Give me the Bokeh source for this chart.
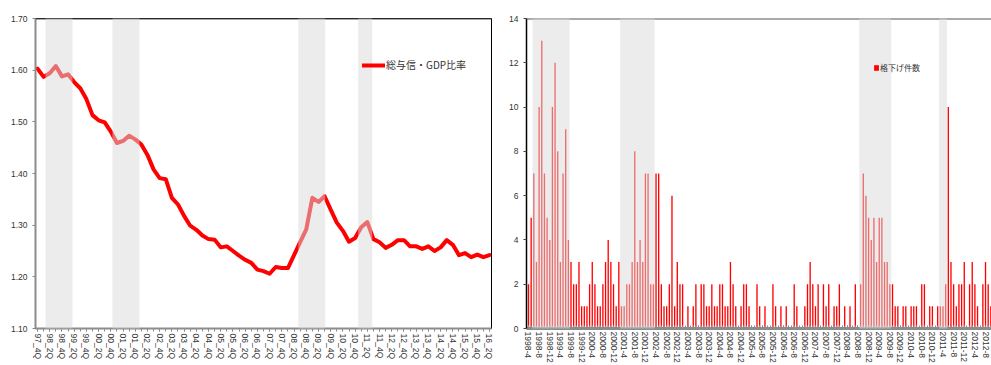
from bokeh.plotting import figure
from bokeh.models import FixedTicker, Legend, LegendItem, Span, NumeralTickFormatter
from bokeh.layouts import row
from bokeh.embed import file_html
from bokeh.resources import INLINE

# ---------------- left chart data (quarterly, 97_4Q .. 16_2Q) ----------------
quarters = []
for i in range(75):
    t = 1997 * 4 + 3 + i
    quarters.append(f"{(t // 4) % 100:02d}_{t % 4 + 1}Q")

ratio = [1.603, 1.587, 1.594, 1.608, 1.588, 1.592, 1.577, 1.565, 1.544, 1.513,
         1.503, 1.499, 1.481, 1.459, 1.463, 1.473, 1.466, 1.456, 1.436, 1.408,
         1.391, 1.389, 1.353, 1.340, 1.318, 1.299, 1.291, 1.280, 1.273, 1.272,
         1.257, 1.259, 1.250, 1.241, 1.233, 1.227, 1.214, 1.211, 1.206, 1.219,
         1.217, 1.217, 1.242, 1.267, 1.292, 1.353, 1.345, 1.356, 1.330, 1.305,
         1.289, 1.268, 1.275, 1.296, 1.306, 1.273, 1.267, 1.256, 1.262, 1.271,
         1.271, 1.259, 1.259, 1.254, 1.259, 1.250, 1.257, 1.271, 1.262, 1.242,
         1.246, 1.238, 1.243, 1.238, 1.242]
ratio_label = "総与信・GDP比率"
band_q_start = [1.31, 12.27, 42.7, 52.5]
band_q_end = [5.73, 16.7, 47.1, 54.8]
y_ticks_left = [1.10, 1.20, 1.30, 1.40, 1.50, 1.60, 1.70]

# ---------------- right chart data (monthly, 1998-4 .. 2012-10) ----------------
months = []
for k in range(175):
    months.append(f"{1998 + (3 + k) // 12}-{(3 + k) % 12 + 1}")

downgrades = [2, 5, 7, 3, 10, 13, 7, 5, 4, 10, 12, 8, 3, 7, 9, 4, 3, 2, 2, 3,
              1, 1, 1, 2, 3, 2, 1, 1, 2, 3, 4, 3, 2, 1, 3, 1, 1, 2, 2, 3,
              8, 3, 4, 3, 7, 7, 2, 2, 7, 7, 2, 1, 1, 2, 6, 1, 3, 2, 2, 0,
              1, 0, 1, 2, 0, 2, 2, 1, 1, 2, 1, 1, 2, 2, 1, 1, 3, 2, 1, 0,
              1, 2, 2, 1, 0, 0, 2, 1, 0, 1, 0, 0, 2, 1, 0, 1, 0, 1, 0, 0,
              2, 1, 0, 0, 1, 2, 3, 2, 1, 2, 0, 2, 1, 2, 0, 1, 1, 2, 0, 1,
              0, 1, 0, 2, 0, 2, 7, 6, 5, 4, 5, 3, 5, 5, 3, 3, 2, 2, 1, 1,
              0, 1, 1, 0, 1, 1, 1, 0, 2, 2, 0, 1, 1, 0, 1, 1, 1, 2, 10, 3,
              2, 1, 2, 2, 3, 0, 2, 3, 2, 1, 0, 2, 3, 2, 1]
down_label = "格下げ件数"
band_m_start = [1.5, 34.5, 124.5, 154.5]
band_m_end = [15.5, 47.5, 136.5, 157.5]
y_ticks_right = [0, 2, 4, 6, 8, 10, 12, 14]

TICK_FONT = "Liberation Sans"
JP_FONT = "Noto Sans CJK JP"
AX_GRAY = "#8c8c8c"
BAND = "#d9d9d9"

# ---------------- left figure ----------------
p1 = figure(width=497, height=365, x_range=(-0.33, 74.33), y_range=(1.10, 1.70),
            output_backend="svg", toolbar_location=None,
            min_border_left=35, min_border_right=6, min_border_top=17, min_border_bottom=33)
p1.xgrid.visible = False
p1.ygrid.visible = False
p1.outline_line_color = "black"
p1.outline_line_width = 1

xq = list(range(len(ratio)))
ln = p1.line(xq, ratio, line_color="#ff0000", line_width=4, line_join="round", line_cap="round")
p1.add_layout(Span(location=1.70, dimension="width", line_color="#555555", line_width=2))
p1.quad(left=band_q_start, right=band_q_end, bottom=1.10, top=1.70,
        fill_color=BAND, fill_alpha=0.5, line_color=None, level="overlay")

p1.xaxis.ticker = FixedTicker(ticks=list(range(0, 75, 2)), minor_ticks=list(range(75)))
p1.xaxis.major_label_overrides = {i: quarters[i] for i in range(0, 75, 2)}
p1.xaxis.major_label_orientation = "vertical"
p1.yaxis.ticker = FixedTicker(ticks=y_ticks_left, minor_ticks=[])
p1.yaxis.formatter = NumeralTickFormatter(format="0.00")
for ax in (p1.xaxis, p1.yaxis):
    ax.axis_line_color = AX_GRAY
    ax.axis_line_width = 2
    ax.major_tick_line_color = AX_GRAY
    ax.minor_tick_line_color = AX_GRAY
    ax.major_tick_out = 3
    ax.major_tick_in = 0
    ax.minor_tick_out = 3
    ax.minor_tick_in = 0
    ax.major_label_text_font = TICK_FONT
    ax.major_label_text_font_size = "8.5px"
    ax.major_label_text_color = "#333333"
p1.xaxis.major_label_standoff = 2
p1.yaxis.major_label_standoff = 5

leg1 = Legend(items=[LegendItem(label=ratio_label, renderers=[ln])], location=(327, 256),
              orientation="vertical", padding=0, margin=0, spacing=0,
              glyph_width=23, glyph_height=12, label_height=12, label_standoff=1,
              label_text_font=JP_FONT, label_text_font_size="10px", label_text_color="#333333",
              background_fill_alpha=0, border_line_alpha=0)
p1.add_layout(leg1)

# ---------------- right figure ----------------
p2 = figure(width=494, height=365, x_range=(-0.75, 174.25), y_range=(0, 14),
            output_backend="svg", toolbar_location=None,
            min_border_left=29, min_border_right=0, min_border_top=18, min_border_bottom=37)
p2.xgrid.visible = False
p2.ygrid.visible = False
p2.outline_line_color = None

xm = list(range(len(downgrades)))
bars = p2.vbar(x=xm, top=downgrades, width=0.5, fill_color="#ff0000", line_color=None)
p2.add_layout(Span(location=14, dimension="width", line_color="#555555", line_width=2))
p2.quad(left=band_m_start, right=band_m_end, bottom=0, top=14,
        fill_color=BAND, fill_alpha=0.5, line_color=None, level="overlay")

p2.xaxis.ticker = FixedTicker(ticks=list(range(0, 175, 4)), minor_ticks=list(range(175)))
p2.xaxis.major_label_overrides = {k: months[k] for k in range(0, 175, 4)}
p2.xaxis.major_label_orientation = "vertical"
p2.yaxis.ticker = FixedTicker(ticks=y_ticks_right, minor_ticks=[])
for ax in (p2.xaxis, p2.yaxis):
    ax.major_label_text_font = TICK_FONT
    ax.major_label_text_font_size = "8.5px"
    ax.major_label_text_color = "#333333"
p2.xaxis.axis_line_color = AX_GRAY
p2.xaxis.axis_line_width = 3
p2.xaxis.major_tick_line_color = AX_GRAY
p2.xaxis.minor_tick_line_color = AX_GRAY
p2.xaxis.major_tick_in = 3
p2.xaxis.major_tick_out = 0
p2.xaxis.minor_tick_in = 3
p2.xaxis.minor_tick_out = 0
p2.xaxis.major_label_standoff = 3
p2.yaxis.axis_line_color = "black"
p2.yaxis.axis_line_width = 1.5
p2.yaxis.major_tick_line_color = "#444444"
p2.yaxis.major_tick_out = 3
p2.yaxis.major_tick_in = 0
p2.yaxis.minor_tick_line_color = None
p2.yaxis.major_label_standoff = 5

leg2 = Legend(items=[LegendItem(label=down_label, renderers=[bars])], location=(347, 255),
              orientation="vertical", padding=0, margin=0, spacing=0,
              glyph_width=6, glyph_height=7, label_height=10, label_standoff=1,
              label_text_font=JP_FONT, label_text_font_size="8px", label_text_color="#333333",
              background_fill_alpha=0, border_line_alpha=0)
p2.add_layout(leg2)

layout = row(p1, p2)
open("out.html", "w").write(file_html(layout, INLINE))
